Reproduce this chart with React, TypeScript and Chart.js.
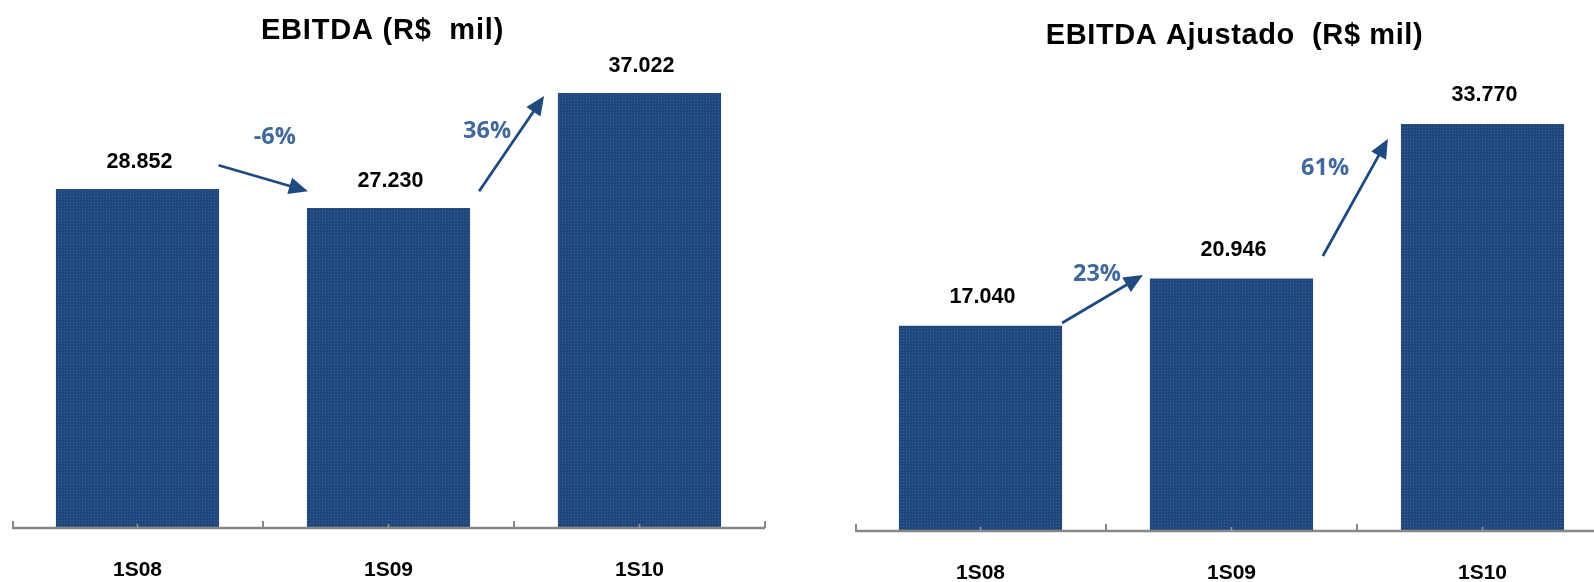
import React, { useEffect, useRef } from 'react';
import { Chart, registerables } from 'chart.js';

Chart.register(...registerables);

// ---- data ----
const categories = ['1S08', '1S09', '1S10'];
const ebitdaValues = [28852, 27230, 37022];
const ebitdaAjustadoValues = [17040, 20946, 33770];
const ebitdaGrowth = ['-6%', '36%'];
const ebitdaAjustadoGrowth = ['23%', '61%'];
const ebitdaTitle = 'EBITDA (R$  mil)';
const ebitdaAjustadoTitle = 'EBITDA Ajustado  (R$ mil)';

// ---- annotation anchors (in category-index / value units, mapped through the scales) ----
const ebitdaArrows = [
  { from: [0.323, 30870], to: [0.679, 28660] },
  { from: [1.361, 28660], to: [1.62, 36766] },
];
const ebitdaGrowthAnchors = [
  [0.547, 33250],
  [1.393, 33745],
];
const ajustadoArrows = [
  { from: [0.325, 17260], to: [0.647, 21245] },
  { from: [1.364, 22820], to: [1.623, 32530] },
];
const ajustadoGrowthAnchors = [
  [0.464, 21330],
  [1.373, 30120],
];

const FONT = '"Liberation Sans", Arial, Helvetica, sans-serif';
const PCT_FONT = '"Open Sans", "Noto Sans", sans-serif';
const BAR_COLOR = '#1f477c';
const ARROW_COLOR = '#1f4a80';
const PCT_COLOR = '#41689b';

function fmt(v: number): string {
  return String(v).replace(/\B(?=(\d{3})+(?!\d))/g, '.');
}

function makePattern(): CanvasPattern | string {
  const c = document.createElement('canvas');
  c.width = 3;
  c.height = 3;
  const g = c.getContext('2d');
  if (!g) return BAR_COLOR;
  g.fillStyle = BAR_COLOR;
  g.fillRect(0, 0, 3, 3);
  g.fillStyle = '#3f6394';
  g.fillRect(1, 1, 1, 1);
  const p = g.createPattern(c, 'repeat');
  return p || BAR_COLOR;
}

const annotPlugin = {
  id: 'annot',
  afterDatasetsDraw(chart: any, _args: any, opts: any) {
    const { ctx, chartArea } = chart;
    const xs = chart.scales.x;
    const ys = chart.scales.y;
    const n = chart.data.labels.length;
    ctx.save();

    // title
    ctx.fillStyle = '#000';
    ctx.font = `bold ${opts.titleSize}px ${FONT}`;
    ctx.textAlign = 'center';
    ctx.textBaseline = 'alphabetic';
    try {
      (ctx as any).letterSpacing = `${opts.titleSpacing}px`;
    } catch (e) {}
    ctx.fillText(opts.title, (chartArea.left + chartArea.right) / 2 + opts.titleDx, opts.titleBaseline);
    try {
      (ctx as any).letterSpacing = '0px';
    } catch (e) {}

    // axis line
    const base = chartArea.bottom;
    ctx.strokeStyle = '#878787';
    ctx.lineWidth = 2.5;
    ctx.beginPath();
    ctx.moveTo(chartArea.left, base);
    ctx.lineTo(chartArea.right, base);
    ctx.stroke();
    // boundary ticks (pointing up)
    ctx.lineWidth = 2;
    for (let i = 0; i <= n; i++) {
      const px = Math.round(xs.getPixelForValue(i - 0.5)) + (i === 0 ? 1 : 0);
      ctx.beginPath();
      ctx.moveTo(px, base);
      ctx.lineTo(px, base - 7);
      ctx.stroke();
    }
    // center ticks
    ctx.strokeStyle = '#9a9a9a';
    ctx.lineWidth = 1.5;
    for (let i = 0; i < n; i++) {
      const px = xs.getPixelForValue(i);
      ctx.beginPath();
      ctx.moveTo(px, base);
      ctx.lineTo(px, base - 4);
      ctx.stroke();
    }

    // value labels
    const meta = chart.getDatasetMeta(0);
    const vals = chart.data.datasets[0].data;
    ctx.fillStyle = '#000';
    ctx.font = `bold 21.5px ${FONT}`;
    ctx.textAlign = 'center';
    ctx.textBaseline = 'middle';
    meta.data.forEach((el: any, i: number) => {
      ctx.fillText(fmt(vals[i]), el.x + 2, el.y - opts.labelOffset);
    });

    // arrows
    ctx.strokeStyle = ARROW_COLOR;
    ctx.fillStyle = ARROW_COLOR;
    ctx.lineWidth = 2.8;
    (opts.arrows || []).forEach((a: any) => {
      const x1 = xs.getPixelForValue(a.from[0]);
      const y1 = ys.getPixelForValue(a.from[1]);
      const x2 = xs.getPixelForValue(a.to[0]);
      const y2 = ys.getPixelForValue(a.to[1]);
      const ang = Math.atan2(y2 - y1, x2 - x1);
      const headLen = 19;
      const headW = 8.5;
      const bx = x2 - headLen * Math.cos(ang);
      const by = y2 - headLen * Math.sin(ang);
      ctx.beginPath();
      ctx.moveTo(x1, y1);
      ctx.lineTo(bx + 2 * Math.cos(ang), by + 2 * Math.sin(ang));
      ctx.stroke();
      ctx.beginPath();
      ctx.moveTo(x2, y2);
      ctx.lineTo(bx + headW * Math.sin(ang), by - headW * Math.cos(ang));
      ctx.lineTo(bx - headW * Math.sin(ang), by + headW * Math.cos(ang));
      ctx.closePath();
      ctx.fill();
    });

    // growth labels
    ctx.fillStyle = PCT_COLOR;
    ctx.font = `bold 23.5px ${PCT_FONT}`;
    (opts.growth || []).forEach((t: string, i: number) => {
      const an = opts.growthAnchors[i];
      ctx.fillText(t, xs.getPixelForValue(an[0]), ys.getPixelForValue(an[1]));
    });

    ctx.restore();
  },
};

type Cfg = {
  left: number;
  width: number;
  padL: number;
  padR: number;
  padT: number;
  title: string;
  titleSize: number;
  titleSpacing: number;
  titleDx: number;
  titleBaseline: number;
  axisH: number;
  values: number[];
  growth: string[];
  growthAnchors: number[][];
  arrows: { from: number[]; to: number[] }[];
  labelOffset: number;
};

function BarChart({ cfg }: { cfg: Cfg }) {
  const ref = useRef<HTMLCanvasElement>(null);
  useEffect(() => {
    if (!ref.current) return;
    const chart = new Chart(ref.current, {
      type: 'bar',
      data: {
        labels: categories,
        datasets: [
          {
            data: cfg.values,
            backgroundColor: makePattern() as any,
            barPercentage: 0.65,
            categoryPercentage: 1,
            borderWidth: 0,
          },
        ],
      },
      options: {
        responsive: false,
        maintainAspectRatio: false,
        animation: false,
        devicePixelRatio: 1,
        layout: { padding: { left: cfg.padL, right: cfg.padR, top: cfg.padT, bottom: 0 } },
        plugins: {
          legend: { display: false },
          tooltip: { enabled: false },
          title: { display: false },
          annot: {
            title: cfg.title,
            titleSize: cfg.titleSize,
            titleSpacing: cfg.titleSpacing,
            titleDx: cfg.titleDx,
            titleBaseline: cfg.titleBaseline,
            arrows: cfg.arrows,
            growth: cfg.growth,
            growthAnchors: cfg.growthAnchors,
            labelOffset: cfg.labelOffset,
          },
        } as any,
        scales: {
          x: {
            grid: { display: false, drawTicks: false },
            border: { display: false },
            ticks: {
              color: '#000',
              font: { family: FONT, size: 21, weight: 'bold' },
              padding: 30,
            },
            afterFit: (s: any) => {
              s.height = cfg.axisH;
            },
          },
          y: { display: false, min: 0, max: 40000 },
        },
      },
      plugins: [annotPlugin as any],
    });
    return () => chart.destroy();
  }, []);
  return (
    <canvas
      ref={ref}
      width={cfg.width}
      height={582}
      style={{ position: 'absolute', left: cfg.left, top: 0, width: cfg.width, height: 582 }}
    />
  );
}

const leftCfg: Cfg = {
  left: 0,
  width: 797,
  padL: 12,
  padR: 32,
  padT: 58,
  title: ebitdaTitle,
  titleSize: 29,
  titleSpacing: 0.8,
  titleDx: -6,
  titleBaseline: 39,
  axisH: 54,
  values: ebitdaValues,
  growth: ebitdaGrowth,
  growthAnchors: ebitdaGrowthAnchors,
  arrows: ebitdaArrows,
  labelOffset: 27,
};

const rightCfg: Cfg = {
  left: 797,
  width: 811,
  padL: 58,
  padR: 0,
  padT: 49,
  title: ebitdaAjustadoTitle,
  titleSize: 29,
  titleSpacing: 0.6,
  titleDx: 3,
  titleBaseline: 44,
  axisH: 51,
  values: ebitdaAjustadoValues,
  growth: ebitdaAjustadoGrowth,
  growthAnchors: ajustadoGrowthAnchors,
  arrows: ajustadoArrows,
  labelOffset: 29,
};

export default function App() {
  return (
    <div
      style={{
        position: 'fixed',
        left: 0,
        top: 0,
        width: 1594,
        height: 582,
        overflow: 'hidden',
        background: '#fff',
      }}
    >
      <BarChart cfg={leftCfg} />
      <BarChart cfg={rightCfg} />
    </div>
  );
}
